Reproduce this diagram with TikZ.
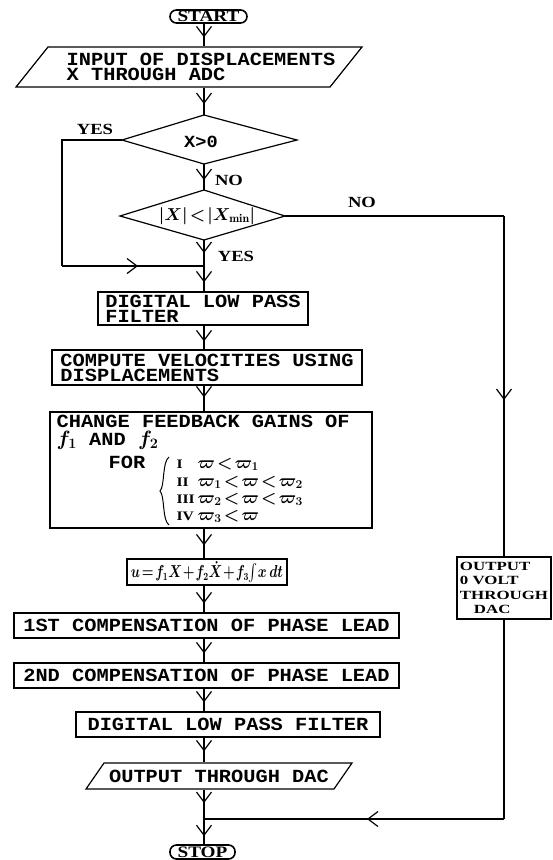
\documentclass[tikz,border=0pt]{standalone}
\usepackage{fontspec}
\usepackage{amsmath}
\usepackage{graphicx}
\usetikzlibrary{arrows.meta,decorations.markings}
\newfontfamily\plotfont[FakeStretch=1.1]{Liberation Mono}
\newfontfamily\lblfont[FakeStretch=1.2]{Liberation Serif}
\newfontfamily\lblwfont[FakeStretch=1.35]{Liberation Serif}
\begin{document}
\begin{tikzpicture}[x=1pt,y=-1pt,line width=1.2pt,
  flowat/.style={postaction={decorate},decoration={markings,
     mark=at position #1 with {\arrow{Straight Barb[length=10pt,width=15pt,line width=1.2pt]}}}},
  plot/.style={font=\fontsize{18.5}{15}\plotfont\bfseries},
  box/.style={draw,rectangle,inner sep=0pt,align=left,plot},
  term/.style={draw,rectangle,rounded corners=6.5pt,inner sep=0pt,line width=1.6pt,
     font=\fontsize{16}{16}\lblfont\bfseries},
  lbl/.style={inner sep=0pt,font=\fontsize{15.5}{15.5}\lblfont\bfseries},
  row/.style={anchor=base west,inner sep=0pt,font=\fontsize{17}{17}\lblfont\bfseries\boldmath}]
\useasboundingbox (0,0) rectangle (552,860);
\fill[white] (0,0) rectangle (552,860);
\coordinate (ax) at (204,0);

% terminals
\node[term,minimum width=77pt,minimum height=13pt] (start) at (208.5,16.5) {START};
\node[term,minimum width=65pt,minimum height=14pt] (stop) at (202.5,852) {STOP};

% input parallelogram
\node[plot,align=left,inner sep=0pt,minimum height=40pt] (in) at (201,67) {INPUT OF DISPLACEMENTS\\X THROUGH ADC};
\draw (48,47) -- (362,47) -- (330,87) -- (16,87) -- cycle;

% decisions
\coordinate (d1t) at (204,115); \coordinate (d1r) at (297,140);
\coordinate (d1b) at (204,164); \coordinate (d1l) at (122,140);
\draw (d1l) -- (d1t) -- (d1r) -- (d1b) -- cycle;
\node[plot,font=\fontsize{17}{17}\plotfont\bfseries,inner sep=0pt] (d1) at (201,142) {X>0};

\coordinate (d2t) at (204,190); \coordinate (d2r) at (285,216);
\coordinate (d2b) at (204,240); \coordinate (d2l) at (120,216);
\draw (d2l) -- (d2t) -- (d2r) -- (d2b) -- cycle;
\node[inner sep=0pt,font=\fontsize{17}{17}\selectfont\boldmath] (d2) at (207,216) {$|X|\!<\!|X_{\mathrm{min}}|$};

% process boxes
\node[box,minimum width=210pt,minimum height=33pt] (dlp1) at (203,308.5) {DIGITAL LOW PASS\\FILTER};
\node[box,minimum width=310pt,minimum height=35pt] (comp) at (207,367.5) {COMPUTE VELOCITIES USING\\DISPLACEMENTS};
\node[draw,rectangle,minimum width=322pt,minimum height=116pt,inner sep=0pt] (chg) at (211,470) {};
\node[plot,anchor=base west,inner sep=0pt] (cl1) at (56,427) {CHANGE FEEDBACK GAINS OF};
\node[plot,anchor=base west,inner sep=0pt] (cl2) at (56,445) {{\fontsize{20}{20}\selectfont$\boldsymbol{f_1}$} AND {\fontsize{20}{20}\selectfont$\boldsymbol{f_2}$}};
\node[plot,anchor=base west,inner sep=0pt] (for) at (108,468) {FOR};
\draw[line width=1pt] (169,457) .. controls (162,462) and (165,486) .. (160,491)
      .. controls (165,496) and (162,520) .. (169,525);
\node[row] (r1) at (176,468) {\makebox[21pt][l]{\fontsize{13}{13}\selectfont I}$\varpi\!<\!\varpi_1$};
\node[row] (r2) at (176,486) {\makebox[21pt][l]{\fontsize{13}{13}\selectfont II}$\varpi_1\!<\!\varpi\!<\!\varpi_2$};
\node[row] (r3) at (176,503) {\makebox[21pt][l]{\fontsize{13}{13}\selectfont III}$\varpi_2\!<\!\varpi\!<\!\varpi_3$};
\node[row] (r4) at (176,520) {\makebox[21pt][l]{\fontsize{13}{13}\selectfont IV}$\varpi_3\!<\!\varpi$};
\node[draw,rectangle,inner sep=0pt,minimum width=160pt,minimum height=26pt,
      font=\fontsize{16}{16}\selectfont\boldmath] (u) at (207,572)
      {\scalebox{0.78}[1]{$u\!=\!f_1X\!+\!f_2\dot{X}\!+\!f_3\!\int\! x\,dt$}};
\node[box,minimum width=385pt,minimum height=25pt] (c1) at (206.5,625.5) {1ST COMPENSATION OF PHASE LEAD};
\node[box,minimum width=385pt,minimum height=25pt] (c2) at (206.5,675.5) {2ND COMPENSATION OF PHASE LEAD};
\node[box,minimum width=304pt,minimum height=25pt] (dlp2) at (228,724.5) {DIGITAL LOW PASS FILTER};

% output parallelogram
\node[plot,inner sep=0pt,minimum height=26pt] (out) at (219,776) {OUTPUT THROUGH DAC};
\draw (104,763) -- (352,763) -- (334,789) -- (86,789) -- cycle;

% zero output box
\node[draw,rectangle,inner sep=0pt,minimum width=94pt,minimum height=62pt,align=left,
      font=\fontsize{12.5}{14.5}\lblwfont\bfseries] (z) at (504,588)
      {OUTPUT\\0 VOLT\\THROUGH\\\hspace*{14pt}DAC};

% junctions
\coordinate (m1) at (204,266);
\coordinate (m2) at (204,819);
\coordinate (yl1) at (62,140);
\coordinate (yl2) at (62,266);
\coordinate (nr1) at (504,216);
\coordinate (nr2) at (504,819);

% connectors
\draw[flowat=-9pt] (start.south -| ax) -- (in.north -| ax);
\draw[flowat=-11pt] (in.south -| ax) -- (d1t);
\draw[flowat=-10pt] (d1b) -- (d2t);
\draw[flowat=-13pt] (d2b) -- (m1);
\draw[flowat=-9pt] (m1) -- (dlp1.north -| ax);
\draw[flowat=-8pt] (dlp1.south -| ax) -- (comp.north -| ax);
\draw[flowat=-14pt] (comp.south -| ax) -- (chg.north -| ax);
\draw[flowat=-13pt] (chg.south -| ax) -- (u.north -| ax);
\draw[flowat=-9pt] (u.south -| ax) -- (c1.north -| ax);
\draw[flowat=-9pt] (c1.south -| ax) -- (c2.north -| ax);
\draw[flowat=-9pt] (c2.south -| ax) -- (dlp2.north -| ax);
\draw[flowat=-11pt] (dlp2.south -| ax) -- (out.north -| ax);
\draw[flowat=-16pt] (out.south -| ax) -- (m2);
\draw[flowat=-8pt] (m2) -- (stop.north -| ax);
\draw (d1l) -- (yl1) -- (yl2);
\draw[flowat=76pt] (yl2) -- (m1);
\draw (d2r) -- (nr1);
\draw[flowat=184pt] (nr1) -- (z.north);
\draw (z.south) -- (nr2);
\draw[flowat=137pt] (nr2) -- (m2);

% labels
\node[lbl] (yes1) at (95,129) {YES};
\node[lbl] (no1) at (229,180) {NO};
\node[lbl] (no2) at (362,202) {NO};
\node[lbl] (yes2) at (236,256) {YES};
\end{tikzpicture}
\end{document}
